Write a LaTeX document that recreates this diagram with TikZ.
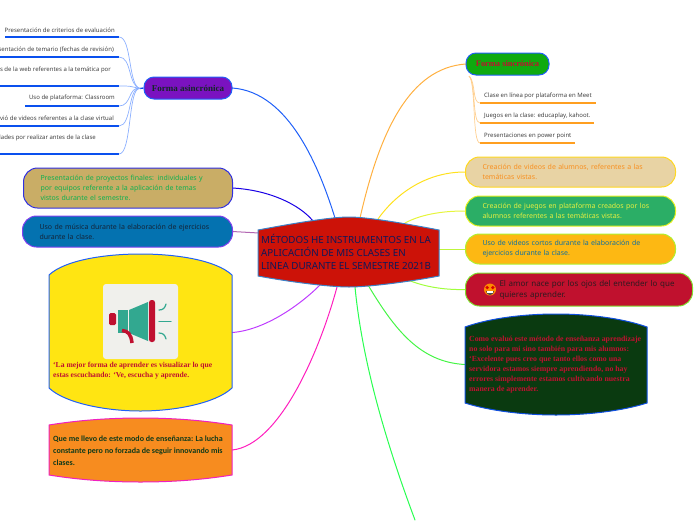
\documentclass[tikz,border=0pt]{standalone}
\usepackage{fontspec}
\setmainfont{Noto Sans}
\newfontfamily\serifb{Liberation Serif}
\newfontfamily\carl{Carlito}
\definecolor{bluel}{HTML}{2060F8}
\definecolor{leafb}{HTML}{0A50EE}
\definecolor{leafbl}{HTML}{8CB0FF}
\definecolor{leafo}{HTML}{FF9F20}
\definecolor{leafol}{HTML}{FFD090}
\definecolor{redt}{HTML}{C01030}
\definecolor{teal2}{HTML}{32A890}
\tikzset{
 conn/.style={line width=1pt,line cap=round},
 pill/.style={draw,line width=1pt,rounded corners=14pt,align=left,inner xsep=17pt,inner ysep=0pt,anchor=west},
 topic/.style={draw=bluel,line width=1pt,rounded corners=10pt,inner sep=0pt,align=center},
 box/.style={inner sep=0pt,draw=none},
 leaf/.style={font=\fontsize{6}{7}\selectfont,text=black!75,inner sep=0pt},
 leafline/.style={line width=1.3pt},
 twig/.style={line width=.7pt},
 bulge/.style={line width=1pt},
 ptxt/.style={font=\fontsize{7}{10}\selectfont},
}
\begin{document}
\begin{tikzpicture}[x=1pt,y=-1pt]
\useasboundingbox (0,0) rectangle (696,520);
% free ends on the central shape
\coordinate (c1) at (335,218); \coordinate (c2) at (313,221); \coordinate (c3) at (259,233);
\coordinate (c4) at (320,285); \coordinate (c5) at (337,287); \coordinate (c6) at (355,287);
\coordinate (c7) at (368,285); \coordinate (c8) at (408,280); \coordinate (c9) at (438,249);
\coordinate (c10) at (405,223); \coordinate (c11) at (378,219); \coordinate (c12) at (360,218);
\coordinate (greenend) at (415,520);
% boxes (named first so that connectors can refer to them)
\node[box,minimum width=183pt,minimum height=157pt] (yellowb) at (140.5,332.5) {};
\node[box,minimum width=183pt,minimum height=64pt] (orangeb) at (140.5,450) {};
\node[box,minimum width=182pt,minimum height=101pt] (greenb) at (556,364.5) {};
\node[box,minimum width=88pt,minimum height=22pt] (asinb) at (188,88) {};
\node[box,minimum width=83pt,minimum height=22pt] (sincb) at (507.5,64) {};
\node[box,minimum width=209pt,minimum height=40pt] (presb) at (127.5,188) {};
\node[box,minimum width=210pt,minimum height=31pt] (musb) at (127,231.5) {};
\node[box,minimum width=210pt,minimum height=30pt] (vidb) at (570,172) {};
\node[box,minimum width=210pt,minimum height=30pt] (jueb) at (570,211) {};
\node[box,minimum width=210pt,minimum height=30pt] (usob) at (570,249) {};
\node[box,minimum width=227pt,minimum height=33pt] (amorb) at (578.5,289.5) {};
% connectors
\draw[conn,draw=bluel] (asinb.east) .. controls (290,92) and (320,170) .. (c1);
\draw[conn,draw=blue!80!violet] (presb.east) .. controls (270,190) and (300,205) .. (c2);
\draw[conn,draw=violet!60!white] (musb.east) -- (c3);
\draw[conn,draw={rgb,255:red,190;green,60;blue,255}] (yellowb.east) .. controls (265,330) and (300,305) .. (c4);
\draw[conn,draw={rgb,255:red,255;green,30;blue,190}] (orangeb.east) .. controls (280,445) and (320,350) .. (c5);
\draw[conn,draw={rgb,255:red,40;green,255;blue,80}] (c6) .. controls (362,360) and (385,440) .. (greenend);
\draw[conn,draw={rgb,255:red,70;green,245;blue,70}] (c7) .. controls (395,330) and (420,362) .. (greenb.west);
\draw[conn,draw={rgb,255:red,160;green,255;blue,60}] (c8) .. controls (425,287) and (445,290) .. (amorb.west);
\draw[conn,draw={rgb,255:red,190;green,245;blue,60}] (c9) -- (usob.west);
\draw[conn,draw={rgb,255:red,230;green,245;blue,60}] (c10) .. controls (420,215) and (440,211) .. (jueb.west);
\draw[conn,draw={rgb,255:red,255;green,225;blue,30}] (c11) .. controls (395,195) and (425,172) .. (vidb.west);
\draw[conn,draw={rgb,255:red,255;green,176;blue,64}] (c12) .. controls (380,130) and (410,68) .. (sincb.west);
% central node
\draw[fill={rgb,255:red,204;green,18;blue,8},draw={rgb,255:red,60;green,130;blue,200},line width=1pt]
 (258,230) .. controls (290,224) and (330,217) .. (349,217) .. controls (368,217) and (408,224) .. (439,230)
 -- (439,276) .. controls (408,282) and (368,287) .. (349,287) .. controls (330,287) and (290,282) .. (258,276) -- cycle;
\node[box,anchor=west,align=left,text={rgb,255:red,16;green,24;blue,90},font=\fontsize{9.8}{13.4}\selectfont] (central) at (261,252)
 {MÉTODOS HE INSTRUMENTOS EN LA\\APLICACIÓN DE MIS CLASES EN\\LINEA DURANTE EL SEMESTRE 2021B};
% asynchronous topic
\node[topic,fill={rgb,255:red,122;green,18;blue,192},minimum width=88pt,minimum height=22pt,
 text={rgb,255:red,20;green,40;blue,40},font=\serifb\bfseries\fontsize{9}{10}\selectfont] (asin) at (188,88) {Forma asincrónica};
\coordinate (aw) at (140,88.5);
\draw[line width=1.3pt,draw=leafb] (aw) -- (asin.west);
\node[leaf,anchor=east] (l1) at (115,30) {Presentación de criterios de evaluación};
\node[leaf,anchor=east] (l2) at (114,50) {Presentación de temario (fechas de revisión)};
\node[leaf,anchor=east] (l3) at (111,70) {Enlaces de la web referentes a la temática por};
\node[leaf,anchor=east] (l4) at (115,98) {Uso de plataforma: Classroom};
\node[leaf,anchor=east] (l5) at (114,118) {Envió de videos referentes a la clase virtual};
\node[leaf,anchor=east] (l6) at (96,138) {Actividades por realizar antes de la clase};
\foreach \n/\xs/\y in {1/5/37,2/0/57,3/0/86,4/25/106,5/0/126,6/0/154}{
 \coordinate (ls\n) at (\xs,\y); \coordinate (le\n) at (119,\y);
 \draw[leafline,draw=leafb] (ls\n) -- (le\n);
 \draw[twig,draw=leafbl] (le\n) .. controls (132,\y) and (128,86) .. (aw);
}
% synchronous topic
\node[topic,fill={rgb,255:red,15;green,170;blue,15},minimum width=83pt,minimum height=22pt,
 text=redt,font=\serifb\bfseries\fontsize{8.4}{10}\selectfont] (sinc) at (507.5,64) {Forma sincrónica};
\coordinate (sb) at (469,76);
\node[leaf,anchor=west] (r1) at (484,96) {Clase en línea por plataforma en Meet};
\node[leaf,anchor=west] (r2) at (484,116) {Juegos en la clase: educaplay, kahoot.};
\node[leaf,anchor=west] (r3) at (484,136) {Presentaciones en power point};
\foreach \n/\xe/\y in {1/596/103,2/594/123,3/575/143}{
 \coordinate (rs\n) at (480,\y); \coordinate (re\n) at (\xe,\y);
 \draw[leafline,draw=leafo] (rs\n) -- (re\n);
 \draw[twig,draw=leafol] (sb) .. controls (476,82) and (472,\y) .. (rs\n);
}
% left pills
\node[pill,draw={rgb,255:red,48;green,48;blue,224},fill={rgb,255:red,201;green,173;blue,102},text={rgb,255:red,16;green,176;blue,80},ptxt,
 minimum width=209pt,minimum height=40pt,text width=175pt] (pres) at (23,188)
 {Presentación de proyectos finales: individuales y\\por equipos referente a la aplicación de temas\\vistos durante el semestre.};
\node[pill,draw={rgb,255:red,128;green,64;blue,240},fill={rgb,255:red,4;green,114;blue,176},text={rgb,255:red,20;green,36;blue,56},ptxt,
 minimum width=210pt,minimum height=31pt,text width=176pt] (musica) at (22,231.5)
 {Uso de música durante la elaboración de ejercicios\\durante la clase.};
% right pills
\node[pill,draw={rgb,255:red,255;green,216;blue,32},fill={rgb,255:red,232;green,211;blue,164},text={rgb,255:red,248;green,144;blue,32},ptxt,
 minimum width=210pt,minimum height=30pt,text width=176pt] (vid) at (465,172)
 {Creación de videos de alumnos, referentes a las\\temáticas vistas.};
\node[pill,draw={rgb,255:red,229;green,240;blue,32},fill={rgb,255:red,43;green,174;blue,102},text={rgb,255:red,232;green,240;blue,64},ptxt,
 minimum width=210pt,minimum height=30pt,text width=176pt] (jue) at (465,211)
 {Creación de juegos en plataforma creados por los\\alumnos referentes a las temáticas vistas.};
\node[pill,draw={rgb,255:red,176;green,240;blue,48},fill={rgb,255:red,253;green,184;blue,19},text={rgb,255:red,16;green,112;blue,160},ptxt,
 minimum width=210pt,minimum height=30pt,text width=176pt] (usov) at (465,249)
 {Uso de videos cortos durante la elaboración de\\ejercicios durante la clase.};
\node[pill,draw={rgb,255:red,128;green,224;blue,48},fill={rgb,255:red,192;green,17;blue,46},text={rgb,255:red,48;green,26;blue,32},
 font=\fontsize{8}{11}\selectfont,inner xsep=0pt,
 minimum width=227pt,minimum height=33pt,text width=227pt] (amor) at (465,289.5) {\hspace*{34pt}El amor nace por los ojos del entender lo que\\\hspace*{34pt}quieres aprender.};
% emoji
\fill[orange!90!yellow] (490,289.5) circle (6pt);
\fill[red!85!black] (487.2,287.5) circle (1.8pt) (492.8,287.5) circle (1.8pt);
\fill[black!70] (486,291) arc[start angle=180,end angle=360,radius=4pt] -- cycle;
\fill[white] (487,291) rectangle (493,292.5);
% yellow node
\draw[bulge,fill={rgb,255:red,255;green,229;blue,18},draw=bluel]
 (49,275) .. controls (65,260) and (105,254) .. (140.5,254) .. controls (176,254) and (216,260) .. (232,275)
 -- (232,388) .. controls (216,403) and (176,411) .. (140.5,411) .. controls (105,411) and (65,403) .. (49,388) -- cycle;
\fill[rounded corners=3pt,fill={rgb,255:red,240;green,240;blue,236}] (103,284) rectangle (178,359);
% megaphone
\fill[teal2] (117.5,310) -- (127.5,310) -- (127.5,333) -- (117.5,333) -- cycle;
\fill[teal2] (129,310) -- (148,302) -- (148,341) -- (129,333) -- cycle;
\fill[rounded corners=1.5pt,redt] (109,313) rectangle (116,325);
\fill[rounded corners=2.5pt,redt] (149,300) rectangle (155,342);
\draw[draw=redt,line width=3.5pt] (122,330.5) .. controls (128,331) and (131,334) .. (132,343);
\draw[draw=teal2,line width=1.2pt,line cap=round] (159,321.5) -- (171,321.5);
\draw[draw=teal2,line width=1.2pt,line cap=round] (159,310) .. controls (163,310) and (165,308) .. (166,304);
\draw[draw=teal2,line width=1.2pt,line cap=round] (159,333) .. controls (163,333) and (165,335) .. (166,339);
\node[box,anchor=west,align=left,text=redt,font=\serifb\bfseries\fontsize{7.6}{10}\selectfont] (ytxt) at (53,371)
 {‘La mejor forma de aprender es visualizar lo que\\estas escuchando: ‘Ve, escucha y aprende.};
% orange node
\draw[bulge,fill={rgb,255:red,247;green,140;blue,31},draw={rgb,255:red,240;green,32;blue,192}]
 (49,425) .. controls (80,420) and (110,418) .. (140.5,418) .. controls (171,418) and (201,420) .. (232,425)
 -- (232,475) .. controls (201,480) and (171,482) .. (140.5,482) .. controls (110,482) and (80,480) .. (49,475) -- cycle;
\node[box,anchor=west,align=left,text={rgb,255:red,16;green,58;blue,26},font=\carl\bfseries\fontsize{8}{12}\selectfont] (otxt) at (53,450.5)
 {Que me llevo de este modo de enseñanza: La lucha\\constante pero no forzada de seguir innovando mis\\clases.};
% dark green node
\draw[bulge,fill={rgb,255:red,10;green,58;blue,16},draw={rgb,255:red,16;green,80;blue,224}]
 (465,327) .. controls (490,318) and (525,314) .. (556,314) .. controls (587,314) and (622,318) .. (647,327)
 -- (647,403) .. controls (622,411) and (587,415) .. (556,415) .. controls (525,415) and (490,411) .. (465,403) -- cycle;
\node[box,anchor=west,align=left,text=redt,font=\serifb\bfseries\fontsize{7.8}{10}\selectfont] (gtxt) at (469,365)
 {Como evaluó este método de enseñanza aprendizaje\\no solo para mi sino también para mis alumnos:\\‘Excelente pues creo que tanto ellos como una\\servidora estamos siempre aprendiendo, no hay\\errores simplemente estamos cultivando nuestra\\manera de aprender.};
\end{tikzpicture}
\end{document}
